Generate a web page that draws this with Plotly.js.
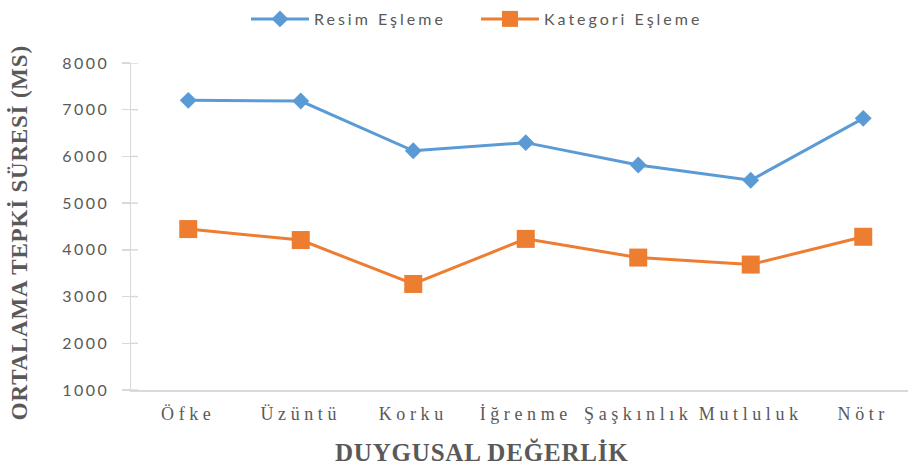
<!DOCTYPE html>
<html>
<head>
<meta charset="utf-8">
<script src="https://cdn.plot.ly/plotly-3.0.1.min.js"></script>
<style>
  html, body { margin: 0; padding: 0; background: #fff; }
  #chart { width: 908px; height: 465px; }
  .xtick text { letter-spacing: 4.6px; }
  .ytick text { letter-spacing: 2.5px; }
  .legendtext { letter-spacing: 3px; }
  .annotation-text { letter-spacing: 0.8px; }
</style>
</head>
<body>
<div id="chart"></div>
<script>
const categories = ["Öfke", "Üzüntü", "Korku", "İğrenme", "Şaşkınlık", "Mutluluk", "Nötr"];
const resimEsleme = [7200, 7185, 6120, 6295, 5815, 5490, 6815];
const kategoriEsleme = [4445, 4210, 3270, 4235, 3835, 3685, 4280];
const yTickValues = [1000, 2000, 3000, 4000, 5000, 6000, 7000, 8000];
const seriesNames = ["Resim Eşleme", "Kategori Eşleme"];
const yTitle = "ORTALAMA TEPKİ SÜRESİ (MS)";
const xTitle = "DUYGUSAL DEĞERLİK";

const grey = "#595959";
const axisGrey = "#d9d9d9";
const plotW = 908 - 131;

const traces = [
  {
    x: categories, y: resimEsleme, name: seriesNames[0], type: "scatter", mode: "lines+markers",
    line: { color: "#5B9BD5", width: 3 },
    marker: { symbol: "diamond", size: 13, color: "#5B9BD5" },
    cliponaxis: false
  },
  {
    x: categories, y: kategoriEsleme, name: seriesNames[1], type: "scatter", mode: "lines+markers",
    line: { color: "#ED7D31", width: 3 },
    marker: { symbol: "square", size: 18, color: "#ED7D31" },
    cliponaxis: false
  }
];

// small inner halves of the crossing tick marks on the value axis
const innerTicks = yTickValues.map(v => ({
  type: "line", xref: "paper", yref: "y", x0: 0, x1: 7 / plotW, y0: v, y1: v,
  line: { color: axisGrey, width: 1.5 }, layer: "below"
}));

const layout = {
  width: 908, height: 465,
  margin: { l: 131, r: 0, t: 63, b: 75, autoexpand: false },
  paper_bgcolor: "#ffffff", plot_bgcolor: "#ffffff",
  showlegend: true,
  legend: {
    orientation: "h", x: 0.444, xanchor: "center", y: 1.1346, yanchor: "middle",
    font: { family: "Lato, 'Liberation Sans', sans-serif", size: 16, color: grey },
    traceorder: "normal", itemwidth: 58, entrywidth: 157, entrywidthmode: "pixels"
  },
  xaxis: {
    type: "category", range: [-0.509, 6.398],
    showgrid: false, zeroline: false,
    showline: true, linecolor: axisGrey, linewidth: 1.5,
    ticks: "", tickfont: { family: "'Liberation Serif', 'DejaVu Serif', serif", size: 18, color: grey },
    ticklabelstandoff: 7
  },
  yaxis: {
    range: [1000, 8000], tickvals: yTickValues,
    showgrid: false, zeroline: false,
    showline: true, linecolor: axisGrey, linewidth: 1.5,
    ticks: "outside", ticklen: 8, tickcolor: axisGrey, tickwidth: 1.5,
    tickfont: { family: "Lato, 'Liberation Sans', sans-serif", size: 16, color: grey },
    ticklabelstandoff: 9
  },
  shapes: innerTicks,
  annotations: [
    {
      text: "<b>" + yTitle + "</b>", xref: "paper", yref: "paper",
      x: -0.144, y: 0.48, xanchor: "center", yanchor: "middle", textangle: -90, showarrow: false,
      font: { family: "'Liberation Serif', 'DejaVu Serif', serif", size: 23, color: grey }
    },
    {
      text: "<b>" + xTitle + "</b>", xref: "paper", yref: "paper",
      x: 0.452, y: -0.19, xanchor: "center", yanchor: "middle", showarrow: false,
      font: { family: "'Liberation Serif', 'DejaVu Serif', serif", size: 25, color: grey }
    }
  ]
};

Plotly.newPlot("chart", traces, layout, { staticPlot: true, displayModeBar: false });
</script>
</body>
</html>
